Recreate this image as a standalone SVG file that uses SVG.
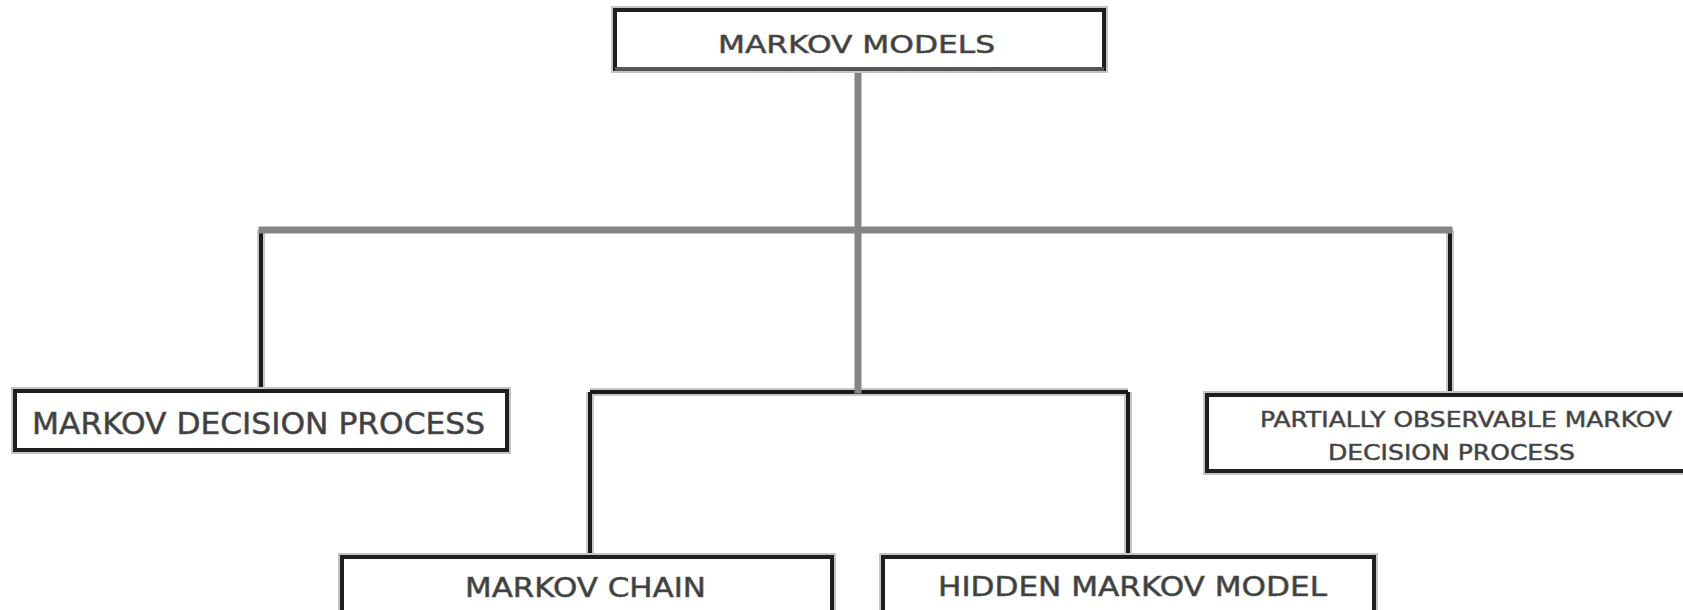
<svg xmlns="http://www.w3.org/2000/svg" width="1683" height="610" viewBox="0 0 1683 610">
  <style>
    .halo { fill: none; stroke: #c4c4c4; stroke-width: 8; }
    .box { fill: #ffffff; stroke: #1e1e1e; stroke-width: 4; }
    .label { font-family: "DejaVu Sans", "Liberation Sans", sans-serif; fill: #3e3e3e; stroke: #5a5a5a; stroke-width: 0.6; }
    .trunk { fill: none; stroke: #858585; stroke-width: 7; stroke-linecap: square; }
    .branch { fill: none; stroke: #1a1a1a; stroke-width: 4; }
    .branch-halo { fill: none; stroke: #c8c8c8; stroke-width: 8; }
  </style>

  <rect width="1683" height="610" fill="#ffffff"/>

  <!-- connectors -->
  <g id="connectors">
    <path class="branch-halo" d="M261,230 V391 M1450,230 V395 M590,392 H1128 M590,392 V557 M1128,392 V557"/>
    <path class="branch" d="M261,230 V391"/>
    <path class="branch" d="M1450,230 V395" stroke-width="5"/>
    <path class="branch" d="M590,392 H1128 M590,392 V557 M1128,392 V557" stroke="#2a2a2a"/>
    <path class="trunk" d="M858,70 V390"/>
    <path class="trunk" d="M262,230 H1449"/>
  </g>

  <!-- root -->
  <g id="markov-models">
    <rect class="halo" x="615" y="10" width="489" height="59"/>
    <rect class="box" x="615" y="10" width="489" height="59"/>
    <path d="M615,69 H1104" stroke="#555555" stroke-width="4"/>
    <text class="label" x="718" y="53" font-size="25" textLength="277" lengthAdjust="spacingAndGlyphs">MARKOV MODELS</text>
  </g>

  <g id="mdp">
    <rect class="halo" x="15" y="391" width="492" height="59"/>
    <rect class="box" x="15" y="391" width="492" height="59"/>
    <text class="label" x="32" y="434" font-size="30" textLength="453" lengthAdjust="spacingAndGlyphs">MARKOV DECISION PROCESS</text>
  </g>

  <g id="pomdp">
    <rect class="halo" x="1207" y="395" width="500" height="76"/>
    <rect class="box" x="1207" y="395" width="500" height="76"/>
    <text class="label" x="1260" y="427" font-size="22" textLength="412" lengthAdjust="spacingAndGlyphs">PARTIALLY OBSERVABLE MARKOV</text>
    <text class="label" x="1328" y="460" font-size="22" textLength="247" lengthAdjust="spacingAndGlyphs">DECISION PROCESS</text>
  </g>

  <g id="markov-chain">
    <rect class="halo" x="342" y="557" width="490" height="80"/>
    <rect class="box" x="342" y="557" width="490" height="80"/>
    <text class="label" x="465" y="597" font-size="27" textLength="241" lengthAdjust="spacingAndGlyphs">MARKOV CHAIN</text>
  </g>

  <g id="hidden-markov-model">
    <rect class="halo" x="883" y="557" width="491" height="80"/>
    <rect class="box" x="883" y="557" width="491" height="80"/>
    <text class="label" x="938" y="596" font-size="27" textLength="389" lengthAdjust="spacingAndGlyphs">HIDDEN MARKOV MODEL</text>
  </g>
</svg>
